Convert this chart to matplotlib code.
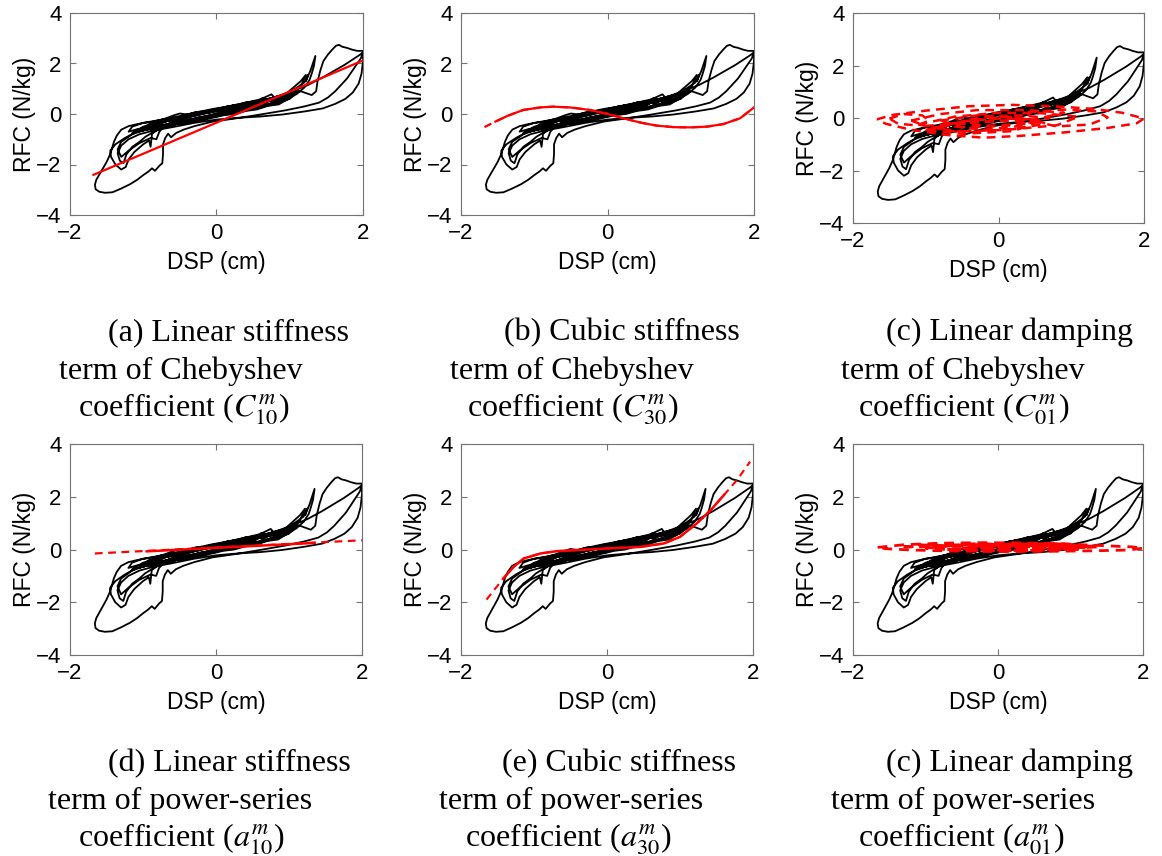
import matplotlib.pyplot as plt

plt.rcParams['font.family'] = ['Liberation Sans', 'DejaVu Sans']
plt.rcParams['mathtext.fontset'] = 'stix'

# measured restoring force vs displacement (one trajectory, same in every panel)
dsp = [
    -0.2, 0.1, 0.35, 0.55, 0.62, 0.7, 0.85, 1.0, 1.1, 1.2,
    1.25, 1.22, 1.28, 1.32, 1.35, 1.33, 1.3, 1.27, 1.2, 1.1,
    0.95, 0.75, 0.55, 0.35, 0.1, -0.15, -0.4, -0.6, -0.8, -0.95,
    -1.1, -1.25, -1.38, -1.45, -1.44, -1.38, -1.3, -1.24, -1.2, -1.12,
    -1.0, -0.92, -0.9, -0.88, -0.75, -0.55, -0.35, -0.1, 0.15, 0.4,
    0.65, 0.85, 1.05, 1.25, 1.45, 1.6, 1.75, 1.88, 1.96, 2.0,
    1.97, 1.9, 1.84, 1.78, 1.7, 1.62, 1.52, 1.4, 1.2, 0.95,
    0.6, 0.25, -0.05, -0.3, -0.45, -0.55, -0.62, -0.66, -0.7, -0.73,
    -0.73, -0.74, -0.78, -0.84, -0.88, -0.93, -1.0, -1.08, -1.18, -1.3,
    -1.42, -1.52, -1.6, -1.65, -1.66, -1.64, -1.6, -1.55, -1.5, -1.46,
    -1.43, -1.4, -1.36, -1.3, -1.2, -1.08, -0.9, -0.7, -0.5, -0.3,
    -0.05, 0.2, 0.45, 0.7, 0.95, 1.15, 1.3, 1.36, 1.38, 1.42,
    1.46, 1.52, 1.58, 1.63, 1.67, 1.72, 1.78, 1.85, 1.92, 2.0,
    2.0, 1.98, 1.94, 1.86, 1.76, 1.62, 1.45, 1.2, 0.9, 0.6,
    0.3, 0.0, -0.3, -0.6, -0.85, -1.05, -1.2, -1.3, -1.35, -1.32,
    -1.27, -1.23, -1.15, -1.05, -0.97, -0.85, -0.7, -0.45, -0.2, 0.05,
    0.3, 0.5, 0.7, 0.78, 0.85, 0.95, 0.8, 0.6, 0.4, 0.15,
    -0.1, -0.35, -0.6, -0.85, -1.05, -0.9, -0.7, -0.5, -0.3, -0.05,
    0.2, 0.45, 0.65, 0.88, 1.05, 1.12, 1.0, 0.8, 0.55, 0.3,
    0.05, -0.2, -0.45, -0.7, -0.95, -1.15, -1.0, -0.8, -0.6, -0.4,
    -0.2, 0.0, 0.2, 0.4, 0.5, 0.58, 0.45, 0.25, 0.0, -0.25,
    -0.5, -0.75, -0.95, -1.15, -1.3, -1.35, -1.3, -1.2, -1.05, -0.9,
    -0.82, -0.78, -0.7, -0.55, -0.35, -0.1, 0.15, 0.4, 0.6, 0.75,
    0.8, 0.95, 1.05, 1.15, 1.22, 1.15, 1.0, 0.85, 0.7, 0.5,
    0.25, 0.0, -0.25, -0.5, -0.7, -0.85, -0.7, -0.45, -0.2, 0.0,
    0.15, 0.3, 0.42, 0.5, 0.62, 0.72, 0.8, 0.9, 1.0, 1.08,
    1.0, 0.9, 0.75, 0.6, 0.45, 0.3, 0.12, -0.05, -0.22, -0.4,
    -0.55, -0.7, -0.82, -0.95, -1.08, -1.2, -1.15, -1.0, -0.85, -0.7,
    -0.58, -0.5, -0.4, -0.28, -0.15, 0.0, 0.12, 0.28, 0.4, 0.52,
    0.55, 0.45, 0.3, 0.15, 0.0, -0.15, -0.3, -0.45, -0.6, -0.75,
    -0.9, -1.0, -0.92, -0.8, -0.68, -0.55, -0.4, -0.25, -0.1, 0.05,
    0.2, 0.35, 0.5, 0.6, 0.7, 0.6, 0.45, 0.3, 0.15, 0.0,
    -0.15, -0.3, -0.42, -0.55, -0.68, -0.8, -0.95, -0.85, -0.7, -0.55,
    -0.4, -0.25, -0.1, 0.05, 0.2, 0.35, 0.48, 0.62, 0.75, 0.88,
    0.95, 0.85, 0.7, 0.55, 0.4, 0.25, 0.1, -0.1, -0.3, -0.5,
]
rfc = [
    0.05, 0.22, 0.35, 0.48, 0.62, 0.55, 0.68, 0.85, 1.05, 1.25,
    1.55, 1.3, 1.7, 2.05, 2.3, 1.9, 1.6, 1.35, 1.05, 0.8,
    0.55, 0.38, 0.22, 0.12, -0.02, -0.15, -0.28, -0.38, -0.5, -0.62,
    -0.72, -0.95, -1.2, -1.45, -1.7, -2.0, -2.2, -2.1, -1.8, -1.5,
    -1.2, -1.05, -1.3, -0.78, -0.5, -0.3, -0.12, 0.1, 0.28, 0.42,
    0.55, 0.72, 0.92, 1.15, 1.45, 1.7, 1.95, 2.2, 2.35, 2.45,
    2.2, 1.9, 1.65, 1.4, 1.15, 0.9, 0.65, 0.45, 0.3, 0.15,
    -0.02, -0.18, -0.3, -0.48, -0.62, -0.75, -0.92, -0.78, -0.95, -1.2,
    -1.6, -1.95, -2.05, -2.25, -2.15, -2.28, -2.42, -2.6, -2.78, -2.95,
    -3.1, -3.12, -3.08, -2.98, -2.8, -2.6, -2.4, -2.15, -1.9, -1.65,
    -1.4, -1.1, -0.85, -0.62, -0.48, -0.4, -0.3, -0.2, -0.08, 0.05,
    0.2, 0.32, 0.45, 0.6, 0.78, 0.9, 0.75, 0.9, 1.3, 1.75,
    2.1, 2.35, 2.55, 2.7, 2.74, 2.66, 2.62, 2.55, 2.5, 2.5,
    2.1, 1.6, 1.2, 0.85, 0.6, 0.4, 0.22, 0.1, -0.02, -0.1,
    -0.15, -0.22, -0.35, -0.52, -0.65, -0.8, -1.0, -1.25, -1.55, -1.85,
    -1.95, -1.6, -1.3, -1.1, -0.9, -0.7, -0.5, -0.3, -0.12, 0.05,
    0.25, 0.38, 0.5, 0.62, 0.55, 0.68, 0.45, 0.3, 0.18, 0.05,
    -0.1, -0.25, -0.4, -0.55, -0.68, -0.45, -0.3, -0.18, -0.02, 0.12,
    0.25, 0.35, 0.48, 0.62, 0.78, 0.95, 0.6, 0.42, 0.25, 0.1,
    -0.05, -0.2, -0.35, -0.48, -0.62, -0.75, -0.5, -0.38, -0.22, -0.08,
    0.08, 0.2, 0.3, 0.42, 0.5, 0.42, 0.28, 0.15, 0.0, -0.15,
    -0.3, -0.45, -0.6, -0.8, -1.1, -1.4, -1.7, -1.45, -1.15, -0.95,
    -1.0, -0.7, -0.45, -0.25, -0.08, 0.12, 0.3, 0.45, 0.58, 0.78,
    0.62, 0.8, 1.05, 1.3, 1.55, 1.1, 0.8, 0.55, 0.38, 0.22,
    0.08, -0.08, -0.2, -0.32, -0.45, -0.52, -0.3, -0.15, 0.02, 0.15,
    0.3, 0.36, 0.48, 0.42, 0.55, 0.5, 0.65, 0.72, 0.88, 1.0,
    0.7, 0.5, 0.42, 0.28, 0.22, 0.12, 0.05, -0.08, -0.12, -0.25,
    -0.3, -0.42, -0.45, -0.55, -0.6, -0.7, -0.5, -0.35, -0.3, -0.18,
    -0.05, 0.02, -0.02, 0.08, 0.1, 0.2, 0.22, 0.32, 0.38, 0.45,
    0.3, 0.22, 0.1, 0.05, -0.1, -0.15, -0.28, -0.32, -0.45, -0.5,
    -0.62, -0.55, -0.4, -0.38, -0.25, -0.22, -0.1, -0.05, 0.05, 0.12,
    0.18, 0.28, 0.35, 0.45, 0.48, 0.32, 0.2, 0.12, 0.0, -0.05,
    -0.2, -0.25, -0.38, -0.4, -0.52, -0.55, -0.48, -0.35, -0.28, -0.15,
    -0.05, 0.05, 0.05, 0.18, 0.22, 0.35, 0.35, 0.48, 0.52, 0.65,
    0.55, 0.38, 0.32, 0.18, 0.12, 0.0, -0.05, -0.18, -0.3, -0.38,
]

# (a) linear stiffness, Chebyshev
fit_a_x = [-1.68, 2.0]
fit_a_y = [-2.41, 2.12]

# (b) cubic stiffness, Chebyshev
fit_b_x = [-1.68, -1.53, -1.37, -1.15, -0.92, -0.74, -0.51, -0.24, 0.0, 0.22, 0.45,
           0.67, 0.9, 1.13, 1.36, 1.58, 1.81, 2.0]
fit_b_y = [-0.52, -0.3, -0.08, 0.16, 0.26, 0.29, 0.26, 0.16, 0.0, -0.17, -0.34,
           -0.46, -0.52, -0.53, -0.5, -0.4, -0.17, 0.26]

# (c) linear damping, Chebyshev (loops)
fit_c_x = [[-1.67, -1.45, -1.0, -0.4, 0.2, 0.8, 1.3, 1.7, 2.0, 1.9, 1.5, 0.9, 0.3, -0.2,
            -0.7, -1.2, -1.55, -1.67],
           [-1.5, -1.3, -1.05, -0.95, -1.12, -1.38, -1.5],
           [-1.1, -0.6, 0.0, 0.6, 1.1, 0.8, 0.1, -0.6, -1.1],
           [-0.9, -0.5, 0.0, 0.5, 0.65, 0.25, -0.4, -0.9],
           [-0.75, -0.35, 0.15, 0.5, 0.3, -0.2, -0.75],
           [0.4, 0.9, 1.35, 1.5, 1.25, 0.8, 0.45, 0.4],
           [-0.6, -0.2, 0.3, 0.7, 0.4, -0.1, -0.6],
           [-1.0, -0.5, 0.1, 0.5, 0.2, -0.5, -1.0],
           [-0.8, -0.3, 0.3, 0.6, 0.1, -0.5, -0.8],
           [-1.2, -0.8, -0.3, 0.4, 0.9, 0.5, -0.3, -1.0, -1.2]]
fit_c_y = [[-0.05, 0.12, 0.28, 0.45, 0.5, 0.44, 0.35, 0.2, -0.02, -0.2, -0.38, -0.55, -0.68,
            -0.75, -0.65, -0.45, -0.22, -0.05],
           [-0.02, 0.15, 0.1, -0.1, -0.28, -0.22, -0.02],
           [-0.25, 0.05, 0.2, 0.18, 0.05, -0.28, -0.45, -0.52, -0.25],
           [-0.38, -0.12, -0.02, -0.05, -0.22, -0.4, -0.55, -0.38],
           [-0.28, -0.08, 0.05, -0.1, -0.3, -0.45, -0.28],
           [0.22, 0.32, 0.25, 0.02, -0.25, -0.32, -0.1, 0.22],
           [-0.2, 0.05, 0.1, 0.0, -0.2, -0.3, -0.2],
           [-0.45, -0.2, -0.1, -0.2, -0.5, -0.6, -0.45],
           [-0.1, 0.1, 0.0, -0.15, -0.3, -0.35, -0.1],
           [-0.1, 0.15, 0.3, 0.3, 0.2, -0.05, -0.15, -0.3, -0.1]]

# (d) linear stiffness, power series
fit_d_x = [-1.66, 2.0]
fit_d_y = [-0.15, 0.35]
core_d_x = [-0.95, 1.35]
core_d_y = [-0.07, 0.25]

# (e) cubic stiffness, power series
fit_e_x = [-1.65, -1.53, -1.42, -1.28, -1.14, -0.91, -0.68, -0.46, 0.0, 0.46, 0.78, 1.0,
           1.23, 1.42, 1.6, 1.78, 1.96]
fit_e_y = [-1.9, -1.48, -1.1, -0.66, -0.34, -0.15, -0.06, -0.03, 0.04, 0.1, 0.23, 0.48,
           0.99, 1.49, 2.06, 2.63, 3.33]

# (f) linear damping, power series (flat loops)
fit_f_x = [[-1.66, -1.3, -0.8, -0.2, 0.4, 1.0, 1.5, 1.85, 2.0, 1.8, 1.3, 0.7, 0.0, -0.6,
            -1.2, -1.55, -1.66],
           [-1.0, -0.5, 0.2, 0.8, 1.2, 0.8, 0.1, -0.5, -1.0],
           [-0.9, -0.3, 0.4, 0.9, 0.5, -0.2, -0.8, -0.9],
           [-1.3, -0.6, 0.3, 1.0, 1.4, 0.8, 0.0, -0.8, -1.3],
           [-0.7, 0.0, 0.6, 1.1, 0.6, 0.0, -0.7],
           [-0.5, 0.2, 0.9, 1.3, 0.9, 0.2, -0.5],
           [-1.1, -0.4, 0.4, 1.1, 0.5, -0.3, -1.1]]
fit_f_y = [[0.08, 0.18, 0.24, 0.26, 0.24, 0.2, 0.14, 0.1, 0.05, -0.02, -0.05, -0.07, -0.08,
            -0.06, -0.02, 0.03, 0.08],
           [0.05, 0.18, 0.2, 0.15, 0.08, -0.02, -0.05, -0.03, 0.05],
           [0.12, 0.22, 0.18, 0.1, 0.0, -0.02, 0.02, 0.12],
           [0.1, 0.15, 0.12, 0.05, 0.1, 0.22, 0.2, 0.1, 0.1],
           [0.0, 0.1, 0.15, 0.15, 0.05, 0.0, 0.0],
           [0.05, 0.25, 0.22, 0.12, 0.0, -0.05, 0.05],
           [0.18, 0.1, 0.02, 0.0, 0.18, 0.22, 0.18]]

captions = [
    ["(a) Linear stiffness", "term of Chebyshev", "coefficient ($C_{10}^{m}$)"],
    ["(b) Cubic stiffness", "term of Chebyshev", "coefficient ($C_{30}^{m}$)"],
    ["(c) Linear damping", "term of Chebyshev", "coefficient ($C_{01}^{m}$)"],
    ["(d) Linear stiffness", "term of power-series", "coefficient ($a_{10}^{m}$)"],
    ["(e) Cubic stiffness", "term of power-series", "coefficient ($a_{30}^{m}$)"],
    ["(c) Linear damping", "term of power-series", "coefficient ($a_{01}^{m}$)"],
]

W, H = 1162, 856
fig = plt.figure(figsize=(W / 100, H / 100), dpi=100)

# axes boxes in pixels: left, top, right, bottom
boxes = [(70, 13, 363, 215), (461, 13, 754, 215), (853, 13, 1144, 223),
         (70, 444, 362, 655), (461, 444, 753, 655), (853, 444, 1143, 655)]

# caption line starts (x) and baselines (y) in pixels
cap_x = [(108, 59, 78), (504, 450, 467), (886, 841, 858),
         (108, 48, 78), (502, 439, 465), (886, 831, 858)]
cap_y = [(340, 379, 417), (340, 379, 417), (340, 379, 417),
         (771, 809, 847), (771, 809, 847), (771, 809, 847)]

dash = (0, (3.5, 2.5))
axes = []
for i, (l, t, r, b) in enumerate(boxes):
    ax = fig.add_axes([l / W, 1 - b / H, (r - l) / W, (b - t) / H])
    ax.plot(dsp, rfc, color='black', lw=1.3)
    ax.set_xlim(-2, 2)
    ax.set_ylim(-4, 4)
    ax.set_xticks([-2, 0, 2])
    ax.set_yticks([-4, -2, 0, 2, 4])
    ax.tick_params(direction='in', length=4, width=0.8, color='0.45',
                   top=True, right=True, labelsize=16, pad=6)
    for s in ax.spines.values():
        s.set_color('0.45')
        s.set_linewidth(0.8)
    ax.set_xlabel('DSP (cm)', fontsize=16.5, labelpad=5)
    ax.set_ylabel('RFC (N/kg)', fontsize=16.5, labelpad=0.5)
    for k in range(3):
        fig.text(cap_x[i][k] / W, 1 - cap_y[i][k] / H, captions[i][k],
                 family='Liberation Serif', fontsize=23, va='baseline', ha='left')
    axes.append(ax)

ax_a, ax_b, ax_c, ax_d, ax_e, ax_f = axes

ax_a.plot(fit_a_x, fit_a_y, color='red', lw=1.6)

ax_b.plot(fit_b_x, fit_b_y, color='red', lw=1.6, linestyle=dash)
ax_b.plot(fit_b_x[1:], fit_b_y[1:], color='red', lw=1.6)

for xs, ys in zip(fit_c_x, fit_c_y):
    ax_c.plot(xs, ys, color='red', lw=1.8, linestyle=dash)

ax_d.plot(fit_d_x, fit_d_y, color='red', lw=1.6, linestyle=dash)
ax_d.plot(core_d_x, core_d_y, color='red', lw=1.8)

ax_e.plot(fit_e_x, fit_e_y, color='red', lw=1.5, linestyle=dash)
ax_e.plot(fit_e_x[2:15], fit_e_y[2:15], color='red', lw=1.8)

for xs, ys in zip(fit_f_x, fit_f_y):
    ax_f.plot(xs, ys, color='red', lw=2.0, linestyle=dash)

fig.savefig('out.png', dpi=100)
